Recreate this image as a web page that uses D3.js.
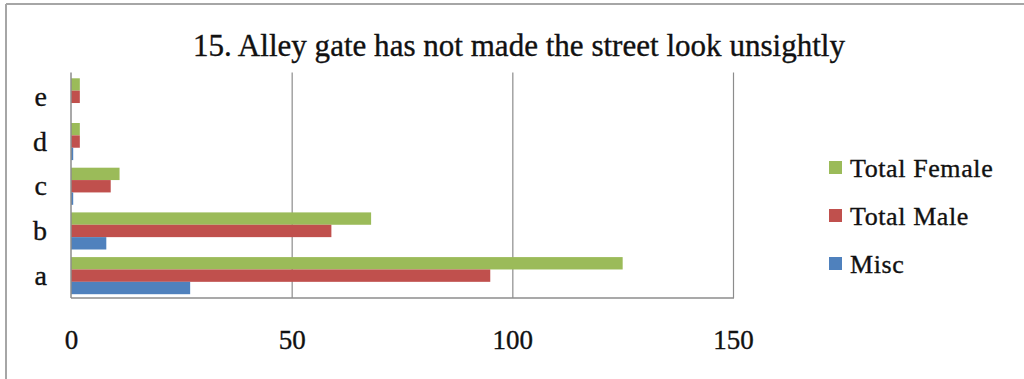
<!DOCTYPE html>
<html>
<head>
<meta charset="utf-8">
<script src="https://cdn.jsdelivr.net/npm/d3@7"></script>
<style>
  html, body { margin: 0; padding: 0; background: #fff; }
  svg { display: block; }
  text { font-family: "Liberation Serif", "DejaVu Serif", serif; fill: #111; stroke: #111; stroke-width: 0.35px; }
</style>
</head>
<body>
<svg id="chart" width="1024" height="379"></svg>
<script>
// Survey responses per answer option
const categories = ["a", "b", "c", "d", "e"];
const seriesNames = ["Total Female", "Total Male", "Misc"];
const miscValues = [27, 8, 0.5, 0.5, 0];
const maleValues = [95, 59, 9, 2, 2];
const femaleValues = [125, 68, 11, 2, 2];
const xTicks = [0, 50, 100, 150];
const titleText = "15. Alley gate has not made the street look unsightly";

const colors = { "Total Female": "#9BBB59", "Total Male": "#C0504D", "Misc": "#4F81BD" };
const valuesBySeries = { "Total Female": femaleValues, "Total Male": maleValues, "Misc": miscValues };

const svg = d3.select("#chart");

// outer frame (top and left edges)
svg.append("line").attr("x1", 6).attr("x2", 1024).attr("y1", 4).attr("y2", 4)
  .attr("stroke", "#a6a6a6").attr("stroke-width", 2);
svg.append("line").attr("x1", 6).attr("x2", 6).attr("y1", 4).attr("y2", 379)
  .attr("stroke", "#a6a6a6").attr("stroke-width", 2);

const plot = { left: 71, right: 733, top: 74.5, bottom: 298 };

const x = d3.scaleLinear().domain([0, 150]).range([plot.left, plot.right]);
// category "a" sits at the bottom
const y = d3.scaleBand().domain(categories.slice().reverse())
  .range([plot.top, plot.bottom]).paddingInner(0.17).paddingOuter(0.085);
const yInner = d3.scaleBand().domain(seriesNames).range([0, y.bandwidth()]);

// vertical gridlines
svg.append("g").selectAll("line").data(xTicks.filter(d => d > 0)).join("line")
  .attr("x1", d => x(d) + 0.5).attr("x2", d => x(d) + 0.5)
  .attr("y1", plot.top - 2).attr("y2", plot.bottom)
  .attr("stroke", "#8c8c8c").attr("stroke-width", 1.2);

// bars
const rows = [];
categories.forEach((c, i) => seriesNames.forEach(s => rows.push({ cat: c, series: s, value: valuesBySeries[s][i] })));
svg.append("g").selectAll("rect").data(rows.filter(d => d.value > 0)).join("rect")
  .attr("x", x(0))
  .attr("y", d => y(d.cat) + yInner(d.series))
  .attr("width", d => x(d.value) - x(0))
  .attr("height", yInner.bandwidth())
  .attr("fill", d => colors[d.series]);

// axis lines
svg.append("line").attr("x1", x(0)).attr("x2", x(0)).attr("y1", plot.top - 2).attr("y2", plot.bottom)
  .attr("stroke", "#8c8c8c").attr("stroke-width", 1.5);
svg.append("line").attr("x1", x(0)).attr("x2", plot.right + 1).attr("y1", plot.bottom).attr("y2", plot.bottom)
  .attr("stroke", "#8c8c8c").attr("stroke-width", 1.5);

// x axis tick labels
const xAxis = d3.axisBottom(x).tickValues(xTicks).tickSize(0).tickPadding(0);
const gx = svg.append("g").attr("transform", `translate(0,${plot.bottom + 31})`).call(xAxis);
gx.select(".domain").remove();
gx.selectAll("text").attr("font-size", 27).attr("font-family", "Liberation Serif").attr("fill", "#111")
  .attr("dy", "0.75em");

// category labels
const yAxis = d3.axisLeft(y).tickSize(0).tickPadding(0);
const gy = svg.append("g").attr("transform", `translate(${plot.left - 24},0)`).call(yAxis);
gy.select(".domain").remove();
gy.selectAll("text").attr("font-size", 28).attr("font-family", "Liberation Serif").attr("fill", "#111");

// title
svg.append("text").attr("x", 519).attr("y", 56).attr("text-anchor", "middle")
  .attr("font-size", 31).attr("textLength", 652).attr("lengthAdjust", "spacingAndGlyphs")
  .text(titleText);

// legend
const legend = svg.append("g").selectAll("g").data(seriesNames).join("g")
  .attr("transform", (d, i) => `translate(829,${167.5 + i * 48})`);
legend.append("rect").attr("x", 0).attr("y", -6.5).attr("width", 13).attr("height", 13)
  .attr("fill", d => colors[d]);
legend.append("text").attr("x", 21).attr("y", 9).attr("font-size", 26)
  .attr("letter-spacing", 0.6).text(d => d);
</script>
</body>
</html>
